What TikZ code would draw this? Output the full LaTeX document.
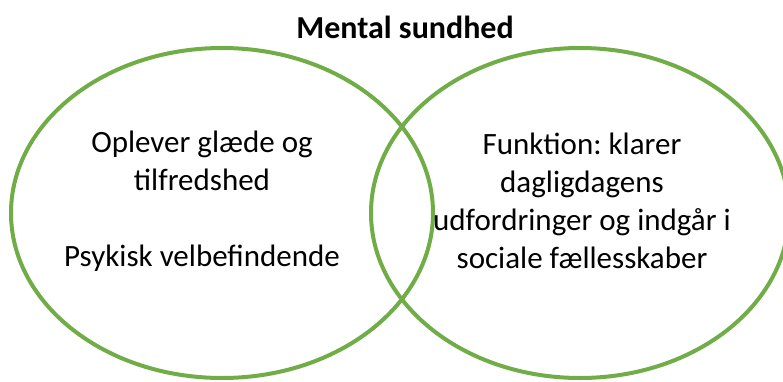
\documentclass[tikz,border=0pt]{standalone}
\usepackage{fontspec}
\setmainfont{Carlito}
\usetikzlibrary{
	shapes.geometric,
	positioning,
}
\definecolor{sundgreen}{HTML}{70AD47}
\tikzset{sundring/.style={
		% The shape:
		ellipse,
		% The size:
		minimum width=422pt,minimum height=330pt,inner sep=0pt,
		% The border:
		line width=4pt,
		draw=sundgreen,
}}
\tikzset{sundtext/.style={
		% the text in the rings
		align=center,
		font=\fontsize{31}{38}\selectfont\frenchspacing,
		text=black,
}}

\begin{document}
\begin{tikzpicture}[x=1pt,y=-1pt]
	\useasboundingbox (0,0) rectangle (783,382);
	\node (title) at (405,27) {\fontsize{32}{36}\selectfont\bfseries Mental sundhed};
	\node [sundring] (left) at (222,213) {};
	\node [sundring,minimum width=418pt] (right) at (580,213) {};
	\node [sundtext] (lefttext) at (202,201) {Oplever glæde og\\tilfredshed\\[38pt]Psykisk velbefindende};
	\node [sundtext] (righttext) at (582,201) {Funktion: klarer\\dagligdagens\\udfordringer og indgår i\\sociale fællesskaber};
\end{tikzpicture}
\end{document}
